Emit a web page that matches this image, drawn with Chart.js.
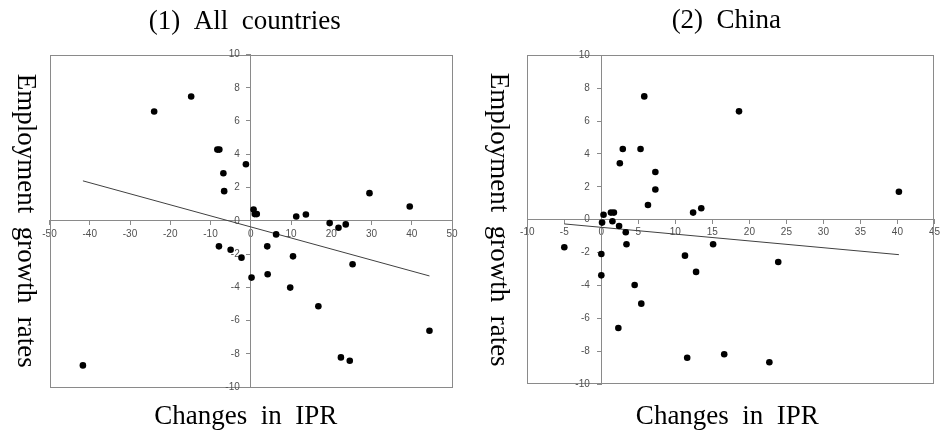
<!DOCTYPE html>
<html><head><meta charset="utf-8">
<script src="https://cdn.jsdelivr.net/npm/chart.js@4.4.1/dist/chart.umd.min.js"></script>
<style>
html,body{margin:0;padding:0;background:#fff;}
#wrap{position:relative;width:943px;height:436px;overflow:hidden;}
.panel{position:absolute;top:0;height:436px;}
</style></head><body>
<div id="wrap">
<div class="panel" style="left:0;width:470px"><canvas id="c1" width="470" height="436"></canvas></div>
<div class="panel" style="left:470px;width:473px"><canvas id="c2" width="473" height="436"></canvas></div>
</div>
<script>
// ---- Titles ----
const titleAll = "(1)  All  countries";
const titleChina = "(2)  China";
const xTitleText = "Changes  in  IPR";
const yTitleText = "Employment  growth  rates";

// ---- Panel 1: All countries ----
const allIPR = [-24.0, -14.8, -8.3, -7.8, -1.2, -6.8, -6.6, -41.7, 29.5, 39.5, 0.7, 1.0, 1.5, 11.3, 13.7, 19.6,
  21.8, 23.6, 6.3, -7.9, -5.0, -2.3, 4.1, 10.5, 25.3, 0.2, 4.2, 9.8, 16.8, 44.4, 22.4, 24.6];
const allEmp = [6.57, 7.47, 4.28, 4.28, 3.40, 2.86, 1.78, -8.70, 1.66, 0.86, 0.68, 0.40, 0.40, 0.26, 0.38, -0.14,
  -0.42, -0.22, -0.82, -1.54, -1.74, -2.22, -1.54, -2.14, -2.62, -3.42, -3.22, -4.02, -5.14, -6.62, -8.22, -8.42];
const allTrendX = [-41.7, 44.4];
const allTrendY = [2.40, -3.32];
const allXTicks = [-50, 50, 10];   // min, max, step
const allYTicks = [-10, 10, 2];

// ---- Panel 2: China ----
const chinaIPR = [5.8, 18.6, 2.9, 5.3, 2.5, 7.3, 7.3, 40.2, 6.3, 12.4, 13.5, 0.3, 1.3, 1.7, 0.1, 1.5,
  2.4, 3.3, 3.4, -5.0, 0.0, 0.0, 11.3, 15.1, 12.8, 23.9, 4.5, 5.4, 2.3, 11.6, 16.6, 22.7];
const chinaEmp = [7.50, 6.59, 4.30, 4.30, 3.43, 2.90, 1.83, 1.70, 0.89, 0.43, 0.69, 0.30, 0.43, 0.43, -0.18, -0.10,
  -0.39, -0.77, -1.50, -1.68, -2.09, -3.39, -2.19, -1.50, -3.18, -2.58, -3.98, -5.11, -6.59, -8.40, -8.19, -8.68];
const chinaTrendX = [-5.0, 40.2];
const chinaTrendY = [-0.26, -2.13];
const chinaXTicks = [-10, 45, 5];
const chinaYTicks = [-10, 10, 2];

const toPts = (xs, ys) => xs.map((x, i) => ({x: x, y: ys[i]}));

const axisColor = '#8a8a8a';
const tickColor = '#505050';
const tickFont = {family: '"Liberation Sans", Arial, sans-serif', size: 10};

const decor = {
  id: 'decor',
  beforeDatasetsDraw(chart, args, o) {
    const {ctx, chartArea: a} = chart;
    ctx.save();
    ctx.strokeStyle = o.frameColor;
    ctx.lineWidth = 1;
    ctx.strokeRect(Math.round(a.left) + 0.5, Math.round(a.top) + 0.5,
      Math.round(a.right - a.left) - 1, Math.round(a.bottom - a.top) - 1);
    // y tick labels, placed left of the y axis (which crosses at x = 0)
    const ys = chart.scales.y, xs = chart.scales.x;
    const x0 = xs.getPixelForValue(0);
    ctx.fillStyle = tickColor;
    ctx.font = '10px "Liberation Sans", Arial, sans-serif';
    ctx.textAlign = 'right';
    ctx.textBaseline = 'middle';
    ys.ticks.forEach(t => {
      ctx.fillText(String(t.value), x0 - o.yLabelGap, ys.getPixelForValue(t.value));
    });
    ctx.restore();
  },
  afterDraw(chart, args, o) {
    const {ctx, chartArea: a} = chart;
    ctx.save();
    ctx.fillStyle = '#000';
    ctx.font = '27px "Liberation Serif", "Times New Roman", serif';
    ctx.textAlign = 'center';
    ctx.textBaseline = 'alphabetic';
    const cx = (a.left + a.right) / 2 + o.titleShift;
    ctx.fillText(o.title, cx, a.top - o.titleGap);
    ctx.fillText(o.xTitle, cx + o.xShift, a.bottom + o.xTitleGap);
    ctx.translate(a.left - o.yTitleGap, (a.top + a.bottom) / 2);
    ctx.rotate(Math.PI / 2);
    ctx.fillText(o.yTitle, 0, 0);
    ctx.restore();
  }
};

function makeChart(id, xs, ys, tx, ty, xt, yt, pad, deco) {
  return new Chart(document.getElementById(id), {
    type: 'scatter',
    data: {
      datasets: [
        {data: toPts(xs, ys), backgroundColor: '#000', borderWidth: 0, pointRadius: 3.3, order: 0},
        {data: toPts(tx, ty), showLine: true, borderColor: '#404040', borderWidth: 1, pointRadius: 0, order: 1}
      ]
    },
    options: {
      responsive: false,
      animation: false,
      layout: {padding: pad},
      plugins: {legend: {display: false}, tooltip: {enabled: false}, decor: deco},
      scales: {
        x: {
          type: 'linear', min: xt[0], max: xt[1], position: {y: 0},
          ticks: {stepSize: xt[2], autoSkip: false, maxRotation: 0, color: tickColor, font: tickFont, padding: 3},
          grid: {drawOnChartArea: false, drawTicks: true, tickLength: 4, color: axisColor},
          border: {color: axisColor}
        },
        y: {
          type: 'linear', min: yt[0], max: yt[1], position: {x: 0},
          ticks: {stepSize: yt[2], autoSkip: false, display: false},
          grid: {drawOnChartArea: false, drawTicks: true, tickLength: 4, color: axisColor},
          border: {color: axisColor}
        }
      }
    },
    plugins: [decor]
  });
}

makeChart('c1', allIPR, allEmp, allTrendX, allTrendY, allXTicks, allYTicks,
  {left: 49.5, right: 18, top: 54.5, bottom: 49},
  {title: titleAll, xTitle: xTitleText, yTitle: yTitleText, frameColor: axisColor, yLabelGap: 11,
   titleShift: -6, xShift: 1, titleGap: 26, xTitleGap: 37, yTitleGap: 32});

makeChart('c2', chinaIPR, chinaEmp, chinaTrendX, chinaTrendY, chinaXTicks, chinaYTicks,
  {left: 57.3, right: 7.7, top: 55.3, bottom: 52},
  {title: titleChina, xTitle: xTitleText, yTitle: yTitleText, frameColor: axisColor, yLabelGap: 11.5,
   titleShift: -4.5, xShift: 1, titleGap: 27, xTitleGap: 40, yTitleGap: 36});
</script>
</body></html>
